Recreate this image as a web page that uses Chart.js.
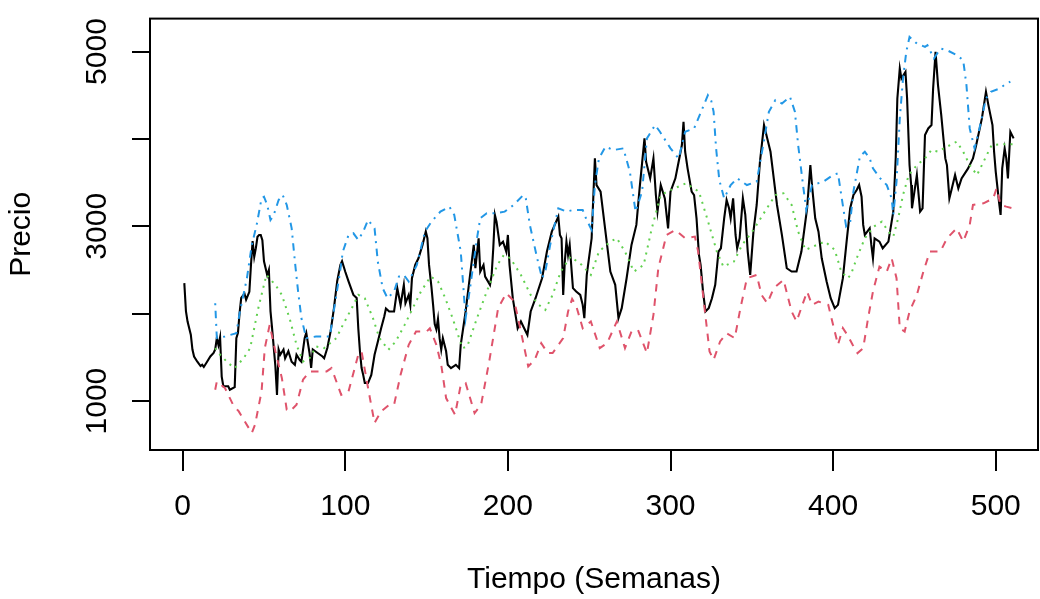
<!DOCTYPE html>
<html><head><meta charset="utf-8">
<script src="https://cdn.jsdelivr.net/npm/chart.js@4/dist/chart.umd.min.js"></script>
<style>html,body{margin:0;padding:0;background:#fff;overflow:hidden}</style>
</head><body>
<canvas id="c" width="1040" height="599"></canvas>
<script>
const blackWeeks = [
1,2,3,5,6,7,9,11,12,13,
15,17,19,20,21,22,23,24,25,28,
29,32,33,34,35,36,38,39,41,42,
43,44,45,46,47,48,49,50,51,52,
53,54,55,57,58,59,60,62,63,65,
67,69,70,72,73,75,76,78,79,80,
83,86,87,89,91,93,95,97,98,100,
102,105,107,108,109,110,111,112,114,116,
118,120,122,124,125,127,130,132,134,136,
137,139,140,141,143,145,147.5,149.5,150.5,151.5,
153,154,155,156,157,158,159,160,162,163,
165,168,170,171,174,176,178,179,180,182,
183,185,186,189,190,191,192,193,195,197,
199,200,201,203,205,206,208,210,212,214,
217,221,224,227,231,232,233,234,235,236,
237,238,240,242,244.5,246,247,248.5,251.5,253.5,
254.5,257,259,261,263,266,268,270,273,276,
279,281,284,285,287.5,289.5,291,292,294,296.5,
298.5,300,303,305,307,308,309,310.5,313,314.5,
316,317.5,318.5,320,321.5,323.5,325.5,327.5,329.5,331,
333,334.5,336,337,338.5,340,341,342.5,344.5,346,
347.5,349,351,353,355,357.5,359.5,361.5,363.5,365.5,
368.5,371.5,374.5,377.5,380.5,384,386,387,389,391,
393,396,398.5,401,403,406,408.5,410.5,412.5,414.5,
416,417.5,418.5,419.5,422.5,423.5,424.5,425.5,428.5,430.5,
434,436,437,438.5,439.5,441,442,444.5,445.5,447,
448,448.5,450,451.5,453.5,455,456.5,458.5,460.5,461.5,
463,464.5,466.5,469,470,471.5,473,475,477,479,
483,486,488,491.5,494,495.5,498,499,500,502,
503,504,505.5,506.5,507.5,509,511];
const blackPrice = [
2350,2030,1910,1760,1590,1510,1450,1400,1415,1390,
1450,1510,1550,1590,1720,1640,1730,1280,1170,1170,
1130,1160,1720,1780,2010,2180,2230,2160,2250,2560,
2830,2650,2750,2880,2900,2900,2840,2600,2520,2440,
2500,2030,1830,1400,1070,1590,1530,1590,1490,1570,
1450,1415,1530,1470,1450,1720,1780,1550,1380,1590,
1550,1510,1490,1610,1800,2060,2370,2560,2600,2480,
2370,2215,2180,1830,1570,1380,1300,1206,1206,1300,
1530,1680,1830,1970,2060,2025,2025,2290,2100,2330,
2120,2215,2100,2406,2558,2634,2787,2940,2863,2558,
2300,2100,1880,1820,1940,1720,1590,1720,1570,1415,
1377,1415,1377,1644,2025,2330,2634,2787,2520,2863,
2482,2558,2425,2330,2444,2749,3130,3053,2787,2825,
2711,2901,2558,2177,1949,1834,1911,1834,1758,2025,
2177,2406,2711,2939,3110,2901,2863,2215,2596,2825,
2672,2787,2292,2253,2215,2101,1949,2444,2863,3777,
3472,3396,3092,2787,2482,2330,1949,2063,2406,2787,
3016,3434,4006,3739,3549,3777,3358,3168,3472,3320,
2977,3396,3549,3739,3930,4197,3853,3663,3396,3358,
3092,2672,2558,2253,2025,2063,2177,2330,2711,2749,
3092,3301,3206,3092,3320,2901,2749,2863,3320,3130,
2711,2444,2939,3244,3739,4159,4006,3853,3549,3244,
2901,2520,2482,2482,2711,3206,3701,3472,3092,2939,
2634,2368,2177,2063,2101,2406,2863,3206,3358,3415,
3472,3339,3016,2901,2977,2787,2634,2863,2825,2749,
2825,3053,3168,3777,4463,4806,4692,4768,4463,3701,
3472,3206,3396,3587,3168,3206,4044,4120,4159,4577,
4997,4616,4273,3777,3701,3320,3434,3587,3434,3549,
3663,3777,3930,4235,4539,4387,4159,3853,3625,3282,
3130,3663,3892,3777,3549,4082,4006];

const blueWeeks = [
20,21,26,33,35,39.5,42.5,45.5,48.5,50,
52,54,56,59,61.5,64,67,69,71,73,
76,82,90.5,93.5,96.5,98.5,102,105,108,111,
114,118,120,123,126,130,133,136,139,144,
149,153,158.5,164,167,171,174,177,181,183,
187,192,198,203.5,209.5,211,213.5,218,221,223,
226,231,236,240,246,248,251.5,253.5,256,260,
265,271,275,278.5,282.5,285.5,290.5,293.5,300,305,
309,314.5,320.5,323,325,326.5,328,330,333,337,
341,347,353,357,360.5,364.5,368.5,373.5,376.5,378.5,
381.5,383.5,387,394,400,403,405,408,410.5,412.5,
414.5,416.5,419.5,422.5,424.5,429,433,436,437,439,
441,443,445,447,451.5,456.5,458,462,466,470,
476,480,482,484,487,490,494,497,502.5,506.5,
509];
const bluePrice = [
2120,1720,1739,1777,2006,2406,2787,3016,3320,3339,
3244,3072,3130,3301,3358,3244,2980,2600,2250,1950,
1720,1739,1739,2101,2444,2711,2901,2920,2844,2939,
3072,2977,2596,2292,2177,2253,2425,2444,2368,2558,
2939,3053,3168,3225,3130,2711,1949,2330,2863,3092,
3149,3149,3168,3244,3358,3320,3016,2634,2406,2482,
2787,3206,3168,3187,3187,3092,2958,3472,3777,3911,
3873,3892,3625,3168,3396,4006,4159,4082,3892,3777,
4082,4120,4387,4500,4440,4311,3900,3530,3320,3472,
3549,3472,3511,3930,4311,4444,4406,4482,4311,3930,
3472,3187,3472,3511,3587,3606,3358,3000,3050,3400,
3600,3800,3854,3777,3663,3549,3472,3320,3130,3511,
4235,4692,4997,5168,5092,5054,5073,4921,5035,5016,
4959,4901,4616,4120,3892,4120,4463,4539,4577,4634,
4654];

const greenWeeks = [
20,23,28,32,37.5,41.5,46.5,51.5,57,61,
66,70,74,78,82,87,94.5,98.5,104,108,
112,117,121,126.5,131,136.5,141.5,146.5,152.5,157,
161.5,166,172,175,181,187,193.5,197.5,201.5,208,
214,219,223,227.5,232.5,238.5,245.5,251,256,263,
267,272,277.5,283.5,288.5,294,300,309.5,317.5,322.5,
328.5,332.5,339,344,351,358,364.5,369.5,374.5,378.5,
383,390,395,401,405,409,411,414.5,419.5,425,
430,434,437,440,443,446.5,451.5,456.5,460.5,464.5,
470,476,480,484,488.5,492.5,497.5,503.5,510.5];
const greenPrice = [
1606,1530,1434,1377,1491,1606,2063,2444,2330,2215,
1930,1644,1453,1491,1625,1606,1720,1872,2063,2215,
2177,1949,1720,1587,1682,1872,2063,2253,2425,2370,
2177,1949,1606,1625,1949,2253,2558,2672,2634,2444,
2215,2101,2044,2215,2482,2653,2558,2444,2711,2825,
2863,2711,2482,2558,2977,3358,3415,3492,3396,3092,
2711,2539,2596,2787,2958,3168,3358,3377,3244,2939,
2730,2787,2825,2730,2482,2406,2450,2634,2863,2996,
3053,2939,2882,3092,3358,3587,3701,3777,3873,3854,
3911,3968,3854,3701,3587,3739,3930,3938,3938];

const redWeeks = [
20,21,26,31,34.5,42.5,44.5,48.5,50.5,53.5,
57,61,64,66,70,74,78,88.5,91.5,97.5,
102,108,110,114,118,122,127,130,134,139,
143.5,150,152,156,159,162,167.5,171,174,179.5,
183.5,188.5,194,199,204,208,212.5,216.5,220.5,224.5,
227.5,234,237,239.5,242,246,251,256.5,261,267,
272,276,280,285.5,289.5,292.5,297.5,303,309,315,
317,320,324,326.5,330.5,334.5,339.5,343,347,353,
356,359.5,363.5,369.5,374.5,377.5,384,387,391,397,
401,403,406,409,412,415,418.5,421.5,424.5,428.5,
433,436,439,441,444,447,451.5,455.5,459.5,466,
470,476,480,484,486,492.5,498.5,500.5,503,506.5,
510.5];
const redPrice = [
1130,1225,1149,958,882,634,730,1110,1606,1872,
1568,1263,901,882,958,1244,1339,1339,1377,1072,
1110,1530,1568,1149,749,882,958,958,1301,1644,
1796,1796,1834,1644,1415,1034,844,1187,1206,863,
958,1453,2063,2234,2139,1796,1396,1472,1663,1549,
1549,1720,2025,2170,2090,1834,1911,1606,1663,1911,
1606,1796,1815,1549,1987,2520,2901,2958,2863,2882,
2711,2215,1568,1472,1682,1777,1720,2063,2406,2444,
2215,2120,2292,2387,2025,1911,2253,2101,2139,2101,
1796,1644,1834,1750,1644,1549,1606,1949,2253,2539,
2482,2634,2406,1834,1796,2025,2215,2482,2711,2711,
2863,2977,2825,3016,3244,3263,3320,3434,3244,3225,
3206];

const xTickValues = [0,100,200,300,400,500];
const yTickValues = [1000,2000,3000,4000,5000];
const yTickLabels = ['1000','','3000','','5000'];
const xTitle = 'Tiempo (Semanas)';
const yTitle = 'Precio';

const FONT = "'Liberation Sans', Arial, sans-serif";
function pts(xs, ys){ return xs.map((x,i)=>({x:x, y:ys[i]})); }

const boxPlugin = {
  id:'box',
  afterDatasetsDraw(chart){
    const {ctx, chartArea:a} = chart;
    ctx.save();
    ctx.strokeStyle='#000';
    ctx.lineWidth=2;
    ctx.strokeRect(a.left, a.top, a.right-a.left, a.bottom-a.top);
    ctx.restore();
  }
};

const tickGrid = (len) => ({display:true, drawOnChartArea:false, drawTicks:true, tickLength:len, color:'#000', tickColor:'#000', lineWidth:2, tickWidth:2});

new Chart(document.getElementById('c'), {
  type:'line',
  data:{datasets:[
    {label:'Precio', data:pts(blackWeeks, blackPrice), borderColor:'#000000', borderWidth:2.1, order:4},
    {label:'Superior', data:pts(blueWeeks, bluePrice), borderColor:'#2297E6', borderDash:[2,5.6,7.5,5.6], order:3},
    {label:'Inferior', data:pts(redWeeks, redPrice), borderColor:'#DF536B', borderDash:[7.5,7], order:2},
    {label:'Media', data:pts(greenWeeks, greenPrice), borderColor:'#61D04F', borderDash:[2,5.2], order:1}
  ]},
  options:{
    responsive:false, animation:false, devicePixelRatio:1,
    layout:{padding:{top:18, right:2, left:0, bottom:0}},
    elements:{point:{radius:0, hoverRadius:0}, line:{borderWidth:2, tension:0, fill:false}},
    plugins:{legend:{display:false}, tooltip:{enabled:false}},
    scales:{
      x:{
        type:'linear', min:-20.1, max:526,
        afterBuildTicks(s){ s.ticks = xTickValues.map(v=>({value:v})); },
        afterFit(s){ s.height = 149; },
        grid:tickGrid(21),
        border:{display:false},
        ticks:{autoSkip:false, maxRotation:0, minRotation:0, padding:17.6, color:'#000', font:{family:FONT, size:30}, callback:(v)=>String(v)},
        title:{display:true, text:xTitle, color:'#000', font:{family:FONT, size:30}, padding:{top:0, bottom:1.5}}
      },
      y:{
        type:'linear', min:440, max:5377,
        afterBuildTicks(s){ s.ticks = yTickValues.map(v=>({value:v})); },
        afterFit(s){ s.width = 150; },
        grid:tickGrid(18),
        border:{display:false},
        ticks:{autoSkip:false, minRotation:90, maxRotation:90, crossAlign:'center', padding:0.6, color:'#000', font:{family:FONT, size:30},
          callback:(v)=>{ const i = yTickValues.indexOf(v); return i>=0 ? yTickLabels[i] : ''; }},
        title:{display:true, text:yTitle, color:'#000', font:{family:FONT, size:30}, padding:{top:3.5, bottom:0}}
      }
    }
  },
  plugins:[boxPlugin]
});
</script>
</body></html>
